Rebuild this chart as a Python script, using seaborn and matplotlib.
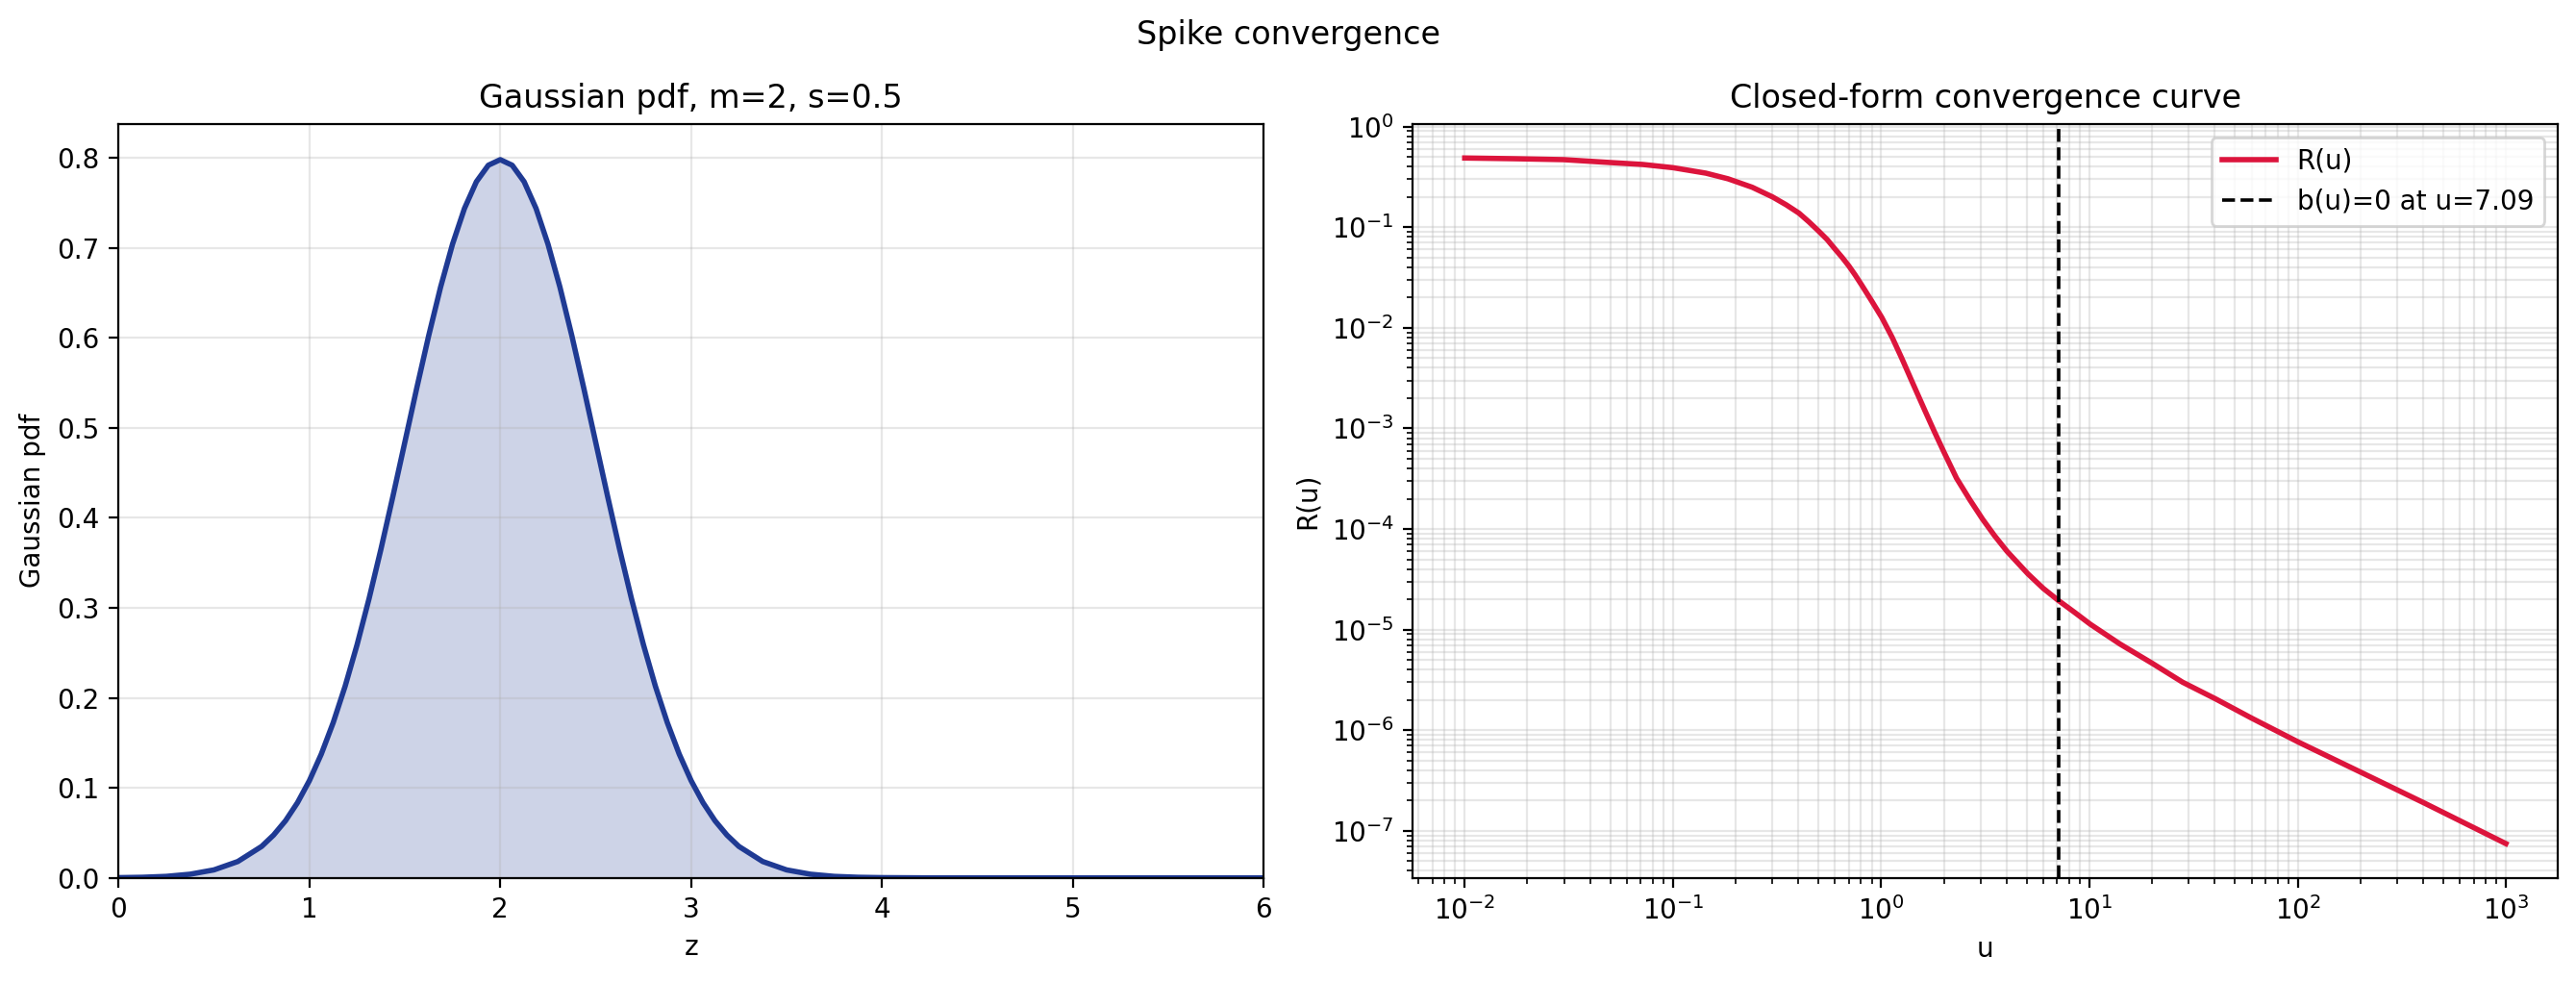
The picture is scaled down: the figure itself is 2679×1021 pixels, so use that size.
import numpy as np
import seaborn as sns
import matplotlib
matplotlib.use('Agg')
import matplotlib.pyplot as plt

# left panel: Gaussian pdf
z_vals = [0.0, 0.125, 0.25, 0.375, 0.5, 0.625, 0.75, 0.8125, 0.875, 0.9375, 1.0, 1.0625,
          1.125, 1.1875, 1.25, 1.3125, 1.375, 1.4375, 1.5, 1.5625, 1.625, 1.6875, 1.75,
          1.8125, 1.875, 1.9375, 2.0, 2.0625, 2.125, 2.1875, 2.25, 2.3125, 2.375, 2.4375,
          2.5, 2.5625, 2.625, 2.6875, 2.75, 2.8125, 2.875, 2.9375, 3.0, 3.0625, 3.125,
          3.1875, 3.25, 3.375, 3.5, 3.625, 3.75, 3.875, 4.0, 4.25, 4.5, 5.0, 5.5, 6.0]
pdf_vals = [0.0003, 0.0007, 0.0017, 0.0041, 0.0089, 0.0182, 0.035, 0.0476, 0.0635, 0.0835,
            0.108, 0.1376, 0.1726, 0.2131, 0.2591, 0.3101, 0.3653, 0.4238, 0.4839, 0.5441,
            0.6023, 0.6564, 0.7041, 0.7437, 0.7734, 0.7917, 0.7979, 0.7917, 0.7734, 0.7437,
            0.7041, 0.6564, 0.6023, 0.5441, 0.4839, 0.4238, 0.3653, 0.3101, 0.2591, 0.2131,
            0.1726, 0.1376, 0.108, 0.0835, 0.0635, 0.0476, 0.035, 0.0182, 0.0089, 0.0041,
            0.0017, 0.0007, 0.0003, 0.00004, 0.0, 0.0, 0.0, 0.0]

# right panel: R(u) on log-log axes
u_vals = [0.01, 0.0175, 0.0299, 0.05, 0.0716, 0.1, 0.144, 0.184, 0.24, 0.301, 0.35, 0.403,
          0.45, 0.499, 0.55, 0.597, 0.65, 0.7, 0.75, 0.807, 0.9, 1.006, 1.13, 1.26, 1.43,
          1.62, 1.8, 2.0, 2.3, 2.67, 3.07, 3.5, 4.02, 5.06, 6.0, 7.09, 8.5, 10.1, 14.0,
          20.1, 28.0, 40.3, 60.0, 101.0, 202.0, 405.0, 1000.0]
R_vals = [0.488, 0.48, 0.47, 0.44, 0.421, 0.391, 0.345, 0.303, 0.25, 0.2, 0.167, 0.138,
          0.113, 0.0922, 0.0755, 0.0615, 0.05, 0.0411, 0.0335, 0.0265, 0.0185, 0.0127,
          0.008, 0.0049, 0.0027, 0.00151, 9.3e-4, 5.83e-4, 3.2e-4, 1.94e-4, 1.25e-4,
          8.6e-5, 6.0e-5, 3.59e-5, 2.57e-5, 1.95e-5, 1.48e-5, 1.13e-5, 7.2e-6, 4.6e-6,
          3.0e-6, 2.05e-6, 1.32e-6, 7.6e-7, 3.8e-7, 1.89e-7, 7.45e-8]
u_zero = 7.09

blue = '#1f3a93'
red = '#dc143c'

fig, (ax1, ax2) = plt.subplots(1, 2, figsize=(13.395, 5.105), dpi=200)
fig.subplots_adjust(left=0.046, right=0.993, bottom=0.106, top=0.874, wspace=0.13)

# Plot 1: Gaussian pdf
sns.lineplot(x=z_vals, y=pdf_vals, ax=ax1, color=blue, linewidth=2, estimator=None)
ax1.fill_between(z_vals, pdf_vals, color=blue, alpha=0.22, linewidth=0)
ax1.set_xlim(0, 6)
ax1.set_ylim(bottom=0)
ax1.set_title('Gaussian pdf, m=2, s=0.5', fontsize=12)
ax1.set_xlabel('z')
ax1.set_ylabel('Gaussian pdf')
ax1.grid(True, alpha=0.3)

# Plot 2: closed-form convergence curve
sns.lineplot(x=u_vals, y=R_vals, ax=ax2, color=red, linewidth=2, estimator=None, label='R(u)')
ax2.axvline(u_zero, color='black', linestyle='--', linewidth=1.3, label=f'b(u)=0 at u={u_zero:.2f}')
ax2.set_xscale('log')
ax2.set_yscale('log')
ax2.set_title('Closed-form convergence curve', fontsize=12)
ax2.set_xlabel('u')
ax2.set_ylabel('R(u)')
ax2.grid(True, which='both', alpha=0.3)
ax2.legend(loc='upper right')

fig.suptitle('Spike convergence', fontsize=12)
fig.savefig('out.png', dpi=200)
